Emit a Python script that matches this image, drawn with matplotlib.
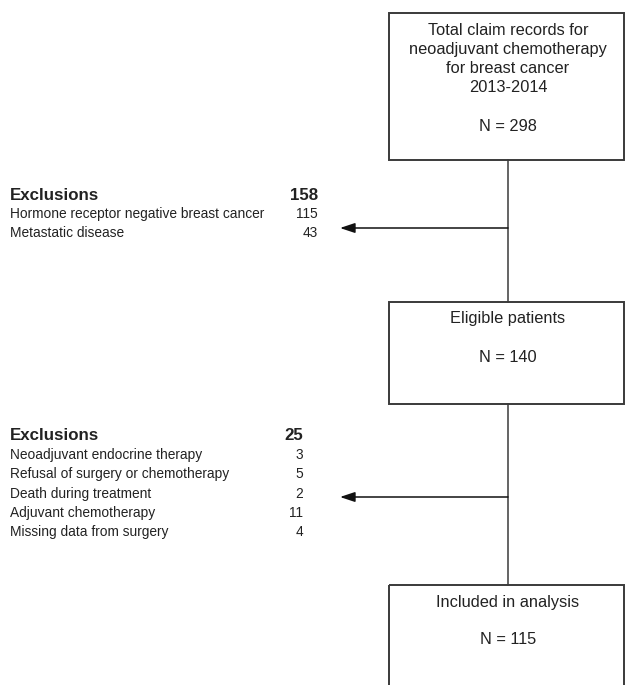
import matplotlib.pyplot as plt
from matplotlib.patches import Rectangle

plt.rcParams['font.family'] = ['Liberation Sans', 'DejaVu Sans']

# flow boxes (title lines, N)
box_titles = [["Total claim records for", "neoadjuvant chemotherapy",
               "for breast cancer", "2013-2014"],
              ["Eligible patients"],
              ["Included in analysis"]]
box_counts = [298, 140, 115]

# exclusion groups
excl1_labels = ["Hormone receptor negative breast cancer", "Metastatic disease"]
excl1_counts = [115, 43]
excl2_labels = ["Neoadjuvant endocrine therapy", "Refusal of surgery or chemotherapy",
                "Death during treatment", "Adjuvant chemotherapy", "Missing data from surgery"]
excl2_counts = [3, 5, 2, 11, 4]

fig = plt.figure(figsize=(6.25, 6.85), dpi=100)
ax = fig.add_axes([0, 0, 1, 1])
ax.set_xlim(0, 625)
ax.set_ylim(685, 0)
ax.axis("off")

lc = "#3a3a3a"
tc = "#222222"
bx0, bx1 = 389, 624
cx = 508

# boxes: (top, bottom)
boxes = [(13, 160), (302, 404), (585, 700)]
for (top, bot) in boxes:
    ax.add_patch(Rectangle((bx0, top), bx1 - bx0, bot - top, fill=False,
                           edgecolor=lc, linewidth=1.4, clip_on=True))

# box texts
title_y = [30, 318, 602]
count_y = [126, 357, 640]
for lines, n, ty, ny in zip(box_titles, box_counts, title_y, count_y):
    for k, t in enumerate(lines):
        ax.text(cx, ty + k * 19, t, ha="center", va="center", fontsize=11.8, color=tc)
    ax.text(cx, ny, "N = %d" % n, ha="center", va="center", fontsize=11.8, color=tc)

# connectors
ax.plot([cx, cx], [160, 302], color=lc, lw=1.1)
ax.plot([cx, cx], [404, 585], color=lc, lw=1.1)

# arrows
for ay in [228, 497]:
    ax.annotate("", xy=(340, ay), xytext=(cx, ay),
                arrowprops=dict(arrowstyle="-|>,head_length=0.9,head_width=0.3",
                                color="#111111", lw=1.1, shrinkA=0, shrinkB=0))

# exclusion group 1
ax.text(10, 195, "Exclusions", ha="left", va="center", fontsize=12.2, fontweight="bold", color=tc)
ax.text(318, 195, str(sum(excl1_counts)), ha="right", va="center", fontsize=12.2,
        fontweight="bold", color=tc)
for i, (lab, n) in enumerate(zip(excl1_labels, excl1_counts)):
    y = 214 + i * 19
    ax.text(10, y, lab, ha="left", va="center", fontsize=9.9, color=tc)
    ax.text(318, y, str(n), ha="right", va="center", fontsize=9.9, color=tc)

# exclusion group 2
ax.text(10, 435, "Exclusions", ha="left", va="center", fontsize=12.2, fontweight="bold", color=tc)
ax.text(303, 435, str(sum(excl2_counts)), ha="right", va="center", fontsize=12.2,
        fontweight="bold", color=tc)
for i, (lab, n) in enumerate(zip(excl2_labels, excl2_counts)):
    y = 455 + i * 19.3
    ax.text(10, y, lab, ha="left", va="center", fontsize=9.9, color=tc)
    ax.text(303, y, str(n), ha="right", va="center", fontsize=9.9, color=tc)

fig.savefig("out.png", dpi=100, facecolor="white")
